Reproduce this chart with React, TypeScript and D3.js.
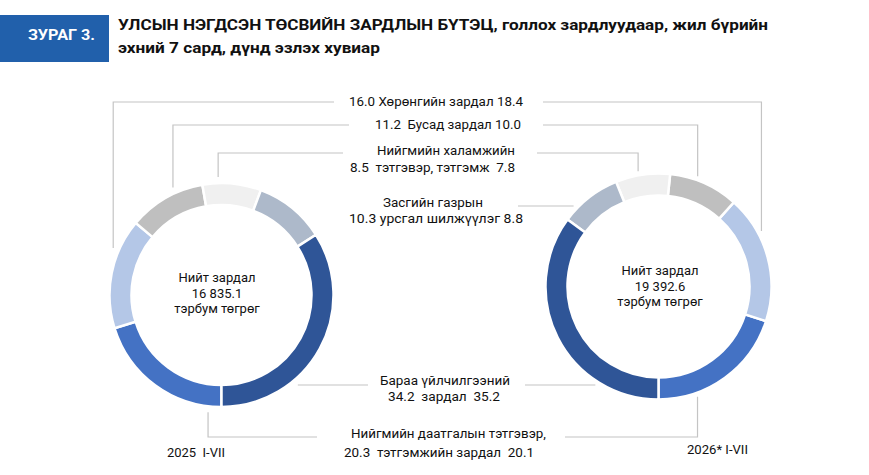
import React from 'react';
import * as d3 from 'd3';

// categories in drawing order (from the 6 o'clock gap)
const categories = [
  'Нийгмийн даатгалын тэтгэвэр, тэтгэмжийн зардал',
  'Хөрөнгийн зардал',
  'Бусад зардал',
  'Нийгмийн халамжийн тэтгэвэр, тэтгэмж',
  'Засгийн газрын урсгал шилжүүлэг',
  'Бараа үйлчилгээний зардал',
];
const values2025 = [20.3, 16.0, 11.2, 8.5, 10.3, 34.2];
const values2026 = [20.1, 18.4, 10.0, 7.8, 8.8, 35.2];
const totals = ['16 835.1', '19 392.6'];
const periods = ['2025  I-VII', '2026* I-VII'];
const labelTop = ['Нийгмийн даатгалын тэтгэвэр,', '', '', 'Нийгмийн халамжийн', 'Засгийн газрын', 'Бараа үйлчилгээний'];
const labelMain = ['тэтгэмжийн зардал', 'Хөрөнгийн зардал', 'Бусад зардал', 'тэтгэвэр, тэтгэмж', 'урсгал шилжүүлэг', 'зардал'];
const sepLeft = ['  ', ' ', '  ', '  ', ' ', '  '];
const sepRight = ['  ', ' ', ' ', '  ', ' ', '  '];

const colors = ['#4472c4', '#b4c7e7', '#bfbfbf', '#f0f0f0', '#adb9ca', '#2f5597'];

const W = 869;
const H = 475;
const FONT = 'Roboto, "Liberation Sans", Arial, sans-serif';
const LINE = '#c4c4c4';

// label layout (text boxes + leader line y / ends)
const labelLayout = [
  { topX: 351, topW: 195, topY: 438, x: 344, w: 190, y: 457, lineY: 437, leftEnd: 317, rightEnd: 565 },
  { x: 349, w: 174, y: 106, lineY: 102, leftEnd: 334, rightEnd: 543 },
  { x: 375, w: 146, y: 129, lineY: 125, leftEnd: 349, rightEnd: 543 },
  { topX: 377, topW: 138, topY: 155, x: 350, w: 165, y: 172, lineY: 153, leftEnd: 343, rightEnd: 537 },
  { topX: 383, topW: 100, topY: 207, x: 349, w: 174, y: 223, lineY: 206, leftEnd: null, rightEnd: 518 },
  { topX: 380, topW: 130, topY: 385, x: 388, w: 112, y: 401, lineY: 385, leftEnd: 368, rightEnd: 525 },
];

// how each leader meets the ring: t = fraction along slice, 'h' = straight horizontal, null = none
const leftLeader: (number | 'h' | null)[] = [0.09, 0.71, 0.64, 0.27, null, 'h'];
const rightLeader: (number | 'h' | null)[] = [0.27, 0.7, 0.62, 0.57, 'h', 'h'];

const donuts = [
  { values: values2025, cx: 221.5, cy: 295, R: 112, r: 90, lr: 118, dir: 1, leaders: leftLeader, textX: 217, textY: [282, 298, 313], period: { x: 167, y: 457, w: 58 } },
  { values: values2026, cx: 658.5, cy: 286.5, R: 113, r: 91, lr: 117, dir: -1, leaders: rightLeader, textX: 660, textY: [275, 291, 306], period: { x: 687, y: 454, w: 61 } },
];

const Donut: React.FC<{ d: typeof donuts[number]; idx: number }> = ({ d, idx }) => {
  const pie = d3
    .pie<number>()
    .sort(null)
    .value((v) => v)
    .startAngle(Math.PI)
    .endAngle(Math.PI + d.dir * 2 * Math.PI);
  const arcs = pie(d.values);
  const arc = d3.arc<d3.PieArcDatum<number>>().innerRadius(d.r).outerRadius(d.R);

  const leaders = arcs.map((a, i) => {
    const mode = d.leaders[i];
    const lay = labelLayout[i];
    const end = d.dir === 1 ? lay.leftEnd : lay.rightEnd;
    if (mode === null || end === null) return null;
    let pts: [number, number][];
    if (mode === 'h') {
      const dy = lay.lineY - d.cy;
      const dx = Math.sqrt(d.lr * d.lr - dy * dy);
      const x = d.dir === 1 ? d.cx + dx : d.cx - dx;
      pts = [[x, lay.lineY], [end, lay.lineY]];
    } else {
      const ang = a.startAngle + mode * (a.endAngle - a.startAngle);
      const ax = d.cx + d.lr * Math.sin(ang);
      const ay = d.cy - d.lr * Math.cos(ang);
      pts = [[ax, ay], [ax, lay.lineY], [end, lay.lineY]];
    }
    return (
      <path key={i} d={d3.line()(pts) || ''} fill="none" stroke={LINE} strokeWidth={1.2} />
    );
  });

  return (
    <g>
      {leaders}
      <g transform={`translate(${d.cx},${d.cy})`}>
        {arcs.map((a, i) => (
          <path key={i} d={arc(a) || ''} fill={colors[i]} stroke="#fff" strokeWidth={2.5} />
        ))}
      </g>
      <g fontFamily={FONT} fontSize={13} fill="#111" textAnchor="middle">
        <text x={d.textX} y={d.textY[0]}>Нийт зардал</text>
        <text x={d.textX} y={d.textY[1]}>{totals[idx]}</text>
        <text x={d.textX} y={d.textY[2]}>тэрбум төгрөг</text>
      </g>
      <text
        x={d.period.x}
        y={d.period.y}
        fontFamily={FONT}
        fontSize={13}
        fill="#111"
        textLength={d.period.w}
        lengthAdjust="spacingAndGlyphs"
        xmlSpace="preserve"
      >
        {periods[idx]}
      </text>
    </g>
  );
};

export default function App() {
  return (
    <svg
      width={W}
      height={H}
      viewBox={`0 0 ${W} ${H}`}
      style={{ position: 'absolute', left: 0, top: 0, background: '#fff' }}
    >
      <rect x={0} y={0} width={W} height={H} fill="#fff" />
      {/* header */}
      <rect x={0} y={15} width={109} height={47} fill="#2160ab" />
      <text x={28} y={40} fontFamily={FONT} fontWeight={700} fontSize={15} fill="#fff" textLength={67} lengthAdjust="spacingAndGlyphs">
        ЗУРАГ 3.
      </text>
      <g fontFamily={FONT} fontWeight={700} fontSize={14.5} fill="#111">
        <text x={118} y={30} textLength={650} lengthAdjust="spacingAndGlyphs">
          УЛСЫН НЭГДСЭН ТӨСВИЙН ЗАРДЛЫН БҮТЭЦ, голлох зардлуудаар, жил бүрийн
        </text>
        <text x={118} y={53} textLength={262} lengthAdjust="spacingAndGlyphs">
          эхний 7 сард, дүнд эзлэх хувиар
        </text>
      </g>

      {donuts.map((d, i) => (
        <Donut key={i} d={d} idx={i} />
      ))}

      {/* category labels between the donuts */}
      <g fontFamily={FONT} fontSize={12.5} fill="#111">
        {categories.map((c, i) => {
          const lay = labelLayout[i];
          const main = `${values2025[i].toFixed(1)}${sepLeft[i]}${labelMain[i]}${sepRight[i]}${values2026[i].toFixed(1)}`;
          return (
            <g key={c}>
              {labelTop[i] && lay.topX !== undefined && (
                <text x={lay.topX} y={lay.topY} textLength={lay.topW} lengthAdjust="spacingAndGlyphs">
                  {labelTop[i]}
                </text>
              )}
              <text x={lay.x} y={lay.y} textLength={lay.w} lengthAdjust="spacingAndGlyphs" xmlSpace="preserve">
                {main}
              </text>
            </g>
          );
        })}
      </g>
    </svg>
  );
}
